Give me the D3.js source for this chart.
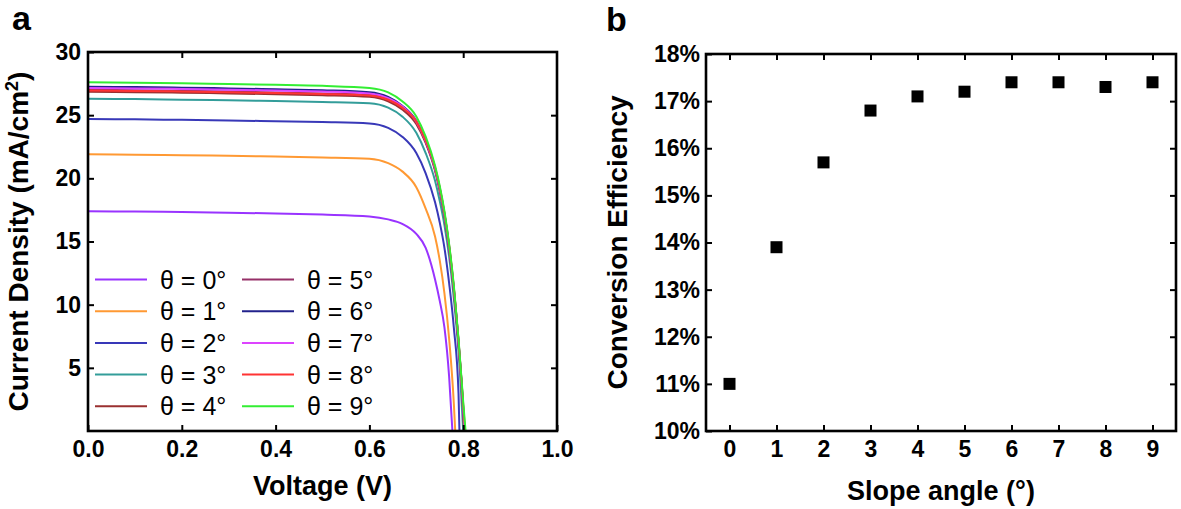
<!DOCTYPE html>
<html>
<head>
<meta charset="utf-8">
<script src="https://cdn.jsdelivr.net/npm/d3@7"></script>
<style>
  html, body { margin: 0; padding: 0; background: #fff; }
  svg { display: block; font-family: "Liberation Sans", Arial, sans-serif; }
</style>
</head>
<body>
<svg id="chart" width="1181" height="509"></svg>
<script>
// ---------------- Data ----------------
const voltage = [0, 0.1, 0.2, 0.3, 0.4, 0.5, 0.6, 0.64, 0.67, 0.70, 0.72, 0.74, 0.75, 0.76, 0.77, 0.78, 0.79, 0.80];
const angleLabels = ["θ = 0°", "θ = 1°", "θ = 2°", "θ = 3°", "θ = 4°", "θ = 5°", "θ = 6°", "θ = 7°", "θ = 8°", "θ = 9°"];
const openCircuitV = [0.777, 0.783, 0.792, 0.800, 0.802, 0.802, 0.803, 0.803, 0.804, 0.805];
const j0 = [17.4, 17.37, 17.33, 17.28, 17.22, 17.13, 16.98, 16.75, 16.4, 15.6, 14.5, 12.0, 10.3, 8.2, 4.3, null, null, null];
const j1 = [21.9, 21.87, 21.83, 21.78, 21.72, 21.65, 21.55, 21.2, 20.55, 19.3, 17.6, 15.4, 13.5, 10.9, 7.3, 2.2, null, null];
const j2 = [24.7, 24.67, 24.63, 24.58, 24.52, 24.45, 24.35, 24.0, 23.3, 22.0, 20.4, 18.1, 16.5, 14.5, 11.7, 8.2, 3.0, null];
const j3 = [26.3, 26.27, 26.23, 26.18, 26.12, 26.05, 25.95, 25.6, 24.9, 23.6, 22.0, 19.8, 18.2, 16.3, 13.8, 10.5, 6.3, null];
const j4 = [26.85, 26.82, 26.78, 26.72, 26.66, 26.58, 26.45, 26.1, 25.45, 24.3, 22.8, 20.6, 19.0, 17.0, 14.4, 11.1, 6.9, 1.5];
const j5 = [27.0, 26.97, 26.93, 26.87, 26.8, 26.72, 26.6, 26.25, 25.6, 24.45, 22.9, 20.7, 19.1, 17.1, 14.5, 11.2, 7.0, 1.6];
const j6 = [27.25, 27.22, 27.18, 27.12, 27.05, 26.97, 26.82, 26.45, 25.75, 24.55, 23.0, 20.8, 19.2, 17.2, 14.6, 11.3, 7.1, 1.9];
const j7 = [27.15, 27.12, 27.08, 27.02, 26.95, 26.87, 26.72, 26.35, 25.7, 24.5, 22.95, 20.75, 19.15, 17.15, 14.55, 11.25, 7.05, 1.8];
const j8 = [26.95, 26.92, 26.88, 26.82, 26.75, 26.67, 26.55, 26.22, 25.6, 24.5, 23.0, 20.85, 19.25, 17.25, 14.7, 11.4, 7.2, 2.1];
const j9 = [27.6, 27.56, 27.52, 27.46, 27.4, 27.32, 27.15, 26.8, 26.1, 24.9, 23.3, 21.0, 19.4, 17.4, 14.8, 11.5, 7.3, 2.3];
const currentSeries = [j0, j1, j2, j3, j4, j5, j6, j7, j8, j9];
const curveColors = ["#9933ff", "#ff9933", "#3838b8", "#339d9a", "#9a3030", "#963068", "#22228c", "#dd44ff", "#ff3333", "#33ee33"];

const voltageTicks = [0, 0.2, 0.4, 0.6, 0.8, 1.0];
const currentTicks = [5, 10, 15, 20, 25, 30];

const slopeAngles = [0, 1, 2, 3, 4, 5, 6, 7, 8, 9];
const efficiency = [11.0, 13.9, 15.7, 16.8, 17.1, 17.2, 17.4, 17.4, 17.3, 17.4];
const efficiencyTicks = [10, 11, 12, 13, 14, 15, 16, 17, 18];

// ---------------- Layout ----------------
const svg = d3.select("#chart");
const FONT = '"Liberation Sans", Arial, sans-serif';
const A = { left: 88, right: 557, top: 52, bottom: 431 };
const B = { left: 706, right: 1176, top: 54, bottom: 431 };

function frame(p) {
  svg.append("rect")
    .attr("x", p.left).attr("y", p.top)
    .attr("width", p.right - p.left).attr("height", p.bottom - p.top)
    .attr("fill", "none").attr("stroke", "#000").attr("stroke-width", 2.6);
}

function styleAxis(g) {
  g.select(".domain").remove();
  g.selectAll(".tick line").attr("stroke", "#000").attr("stroke-width", 2);
  g.selectAll("text").attr("fill", "#000").attr("font-size", 23).attr("font-weight", "bold").attr("font-family", FONT);
}

// ---------------- Panel a ----------------
const xA = d3.scaleLinear().domain([0, 1]).range([A.left, A.right]);
const yA = d3.scaleLinear().domain([0, 30]).range([A.bottom, A.top]);

svg.append("clipPath").attr("id", "clipA").append("rect")
  .attr("x", A.left).attr("y", A.top).attr("width", A.right - A.left).attr("height", A.bottom - A.top);

const line = d3.line()
  .defined(d => d[1] !== null)
  .x(d => xA(d[0])).y(d => yA(d[1]))
  .curve(d3.curveMonotoneX);

const curvesG = svg.append("g").attr("clip-path", "url(#clipA)");
currentSeries.forEach((js, i) => {
  const pts = voltage.map((v, k) => [v, js[k]]).filter(d => d[1] !== null);
  pts.push([openCircuitV[i], 0]);
  curvesG.append("path")
    .attr("d", line(pts))
    .attr("fill", "none")
    .attr("stroke", curveColors[i])
    .attr("stroke-width", 2);
});

svg.append("g").attr("transform", `translate(0,${A.bottom})`)
  .call(d3.axisBottom(xA).tickValues(voltageTicks).tickFormat(d3.format(".1f")).tickSize(-6).tickPadding(10))
  .call(styleAxis);
svg.append("g").attr("transform", `translate(0,${A.top})`)
  .call(d3.axisTop(xA).tickValues(voltageTicks.slice(1, -1)).tickFormat("").tickSize(-6))
  .call(styleAxis);
svg.append("g").attr("transform", `translate(${A.left},0)`)
  .call(d3.axisLeft(yA).tickValues(currentTicks).tickFormat(d3.format("d")).tickSize(-6).tickPadding(7))
  .call(styleAxis);
svg.append("g").attr("transform", `translate(${A.right},0)`)
  .call(d3.axisRight(yA).tickValues(currentTicks.slice(0, -1)).tickFormat("").tickSize(-6))
  .call(styleAxis);
frame(A);

// legend
const legend = svg.append("g");
angleLabels.forEach((lab, i) => {
  const col = Math.floor(i / 5), row = i % 5;
  const lx = 95 + col * 147, ly = 279.5 + row * 31.7;
  legend.append("line")
    .attr("x1", lx).attr("x2", lx + 52).attr("y1", ly).attr("y2", ly)
    .attr("stroke", curveColors[i]).attr("stroke-width", 2);
  legend.append("text")
    .attr("x", lx + 65).attr("y", ly).attr("dy", "0.36em")
    .attr("font-size", 25).attr("font-family", FONT).attr("fill", "#000")
    .text(lab);
});

svg.append("text").attr("x", (A.left + A.right) / 2).attr("y", 495)
  .attr("text-anchor", "middle").attr("font-size", 27).attr("font-weight", "bold").attr("font-family", FONT)
  .text("Voltage (V)");

const yTitleA = svg.append("text")
  .attr("transform", `translate(28,${(A.top + A.bottom) / 2}) rotate(-90)`)
  .attr("text-anchor", "middle").attr("font-size", 28).attr("font-weight", "bold").attr("font-family", FONT);
yTitleA.append("tspan").text("Current Density (mA/cm");
yTitleA.append("tspan").attr("font-size", 18).attr("dy", -10).text("2");
yTitleA.append("tspan").attr("dy", 10).text(")");

svg.append("text").attr("x", 12).attr("y", 30)
  .attr("font-size", 34).attr("font-weight", "bold").attr("font-family", FONT).text("a");

// ---------------- Panel b ----------------
const xB = d3.scaleLinear().domain([-0.5, 9.5]).range([B.left, B.right]);
const yB = d3.scaleLinear().domain([10, 18]).range([B.bottom, B.top]);

svg.append("g").attr("transform", `translate(0,${B.bottom})`)
  .call(d3.axisBottom(xB).tickValues(slopeAngles).tickFormat(d3.format("d")).tickSize(-6).tickPadding(10))
  .call(styleAxis);
svg.append("g").attr("transform", `translate(0,${B.top})`)
  .call(d3.axisTop(xB).tickValues(slopeAngles).tickFormat("").tickSize(-6))
  .call(styleAxis);
svg.append("g").attr("transform", `translate(${B.left},0)`)
  .call(d3.axisLeft(yB).tickValues(efficiencyTicks).tickFormat(d => d + "%").tickSize(-6).tickPadding(6))
  .call(styleAxis);
svg.append("g").attr("transform", `translate(${B.right},0)`)
  .call(d3.axisRight(yB).tickValues(efficiencyTicks.slice(1, -1)).tickFormat("").tickSize(-6))
  .call(styleAxis);
frame(B);

const ms = 12;
svg.append("g").selectAll("rect")
  .data(slopeAngles.map((a, i) => [a, efficiency[i]]))
  .join("rect")
  .attr("x", d => xB(d[0]) - ms / 2).attr("y", d => yB(d[1]) - ms / 2)
  .attr("width", ms).attr("height", ms).attr("fill", "#000");

svg.append("text").attr("x", (B.left + B.right) / 2).attr("y", 500)
  .attr("text-anchor", "middle").attr("font-size", 27).attr("font-weight", "bold").attr("font-family", FONT)
  .text("Slope angle (°)");

svg.append("text")
  .attr("transform", `translate(627,${(B.top + B.bottom) / 2}) rotate(-90)`)
  .attr("text-anchor", "middle").attr("font-size", 28).attr("font-weight", "bold").attr("font-family", FONT)
  .text("Conversion Efficiency");

svg.append("text").attr("x", 606).attr("y", 31)
  .attr("font-size", 34).attr("font-weight", "bold").attr("font-family", FONT).text("b");
</script>
</body>
</html>
